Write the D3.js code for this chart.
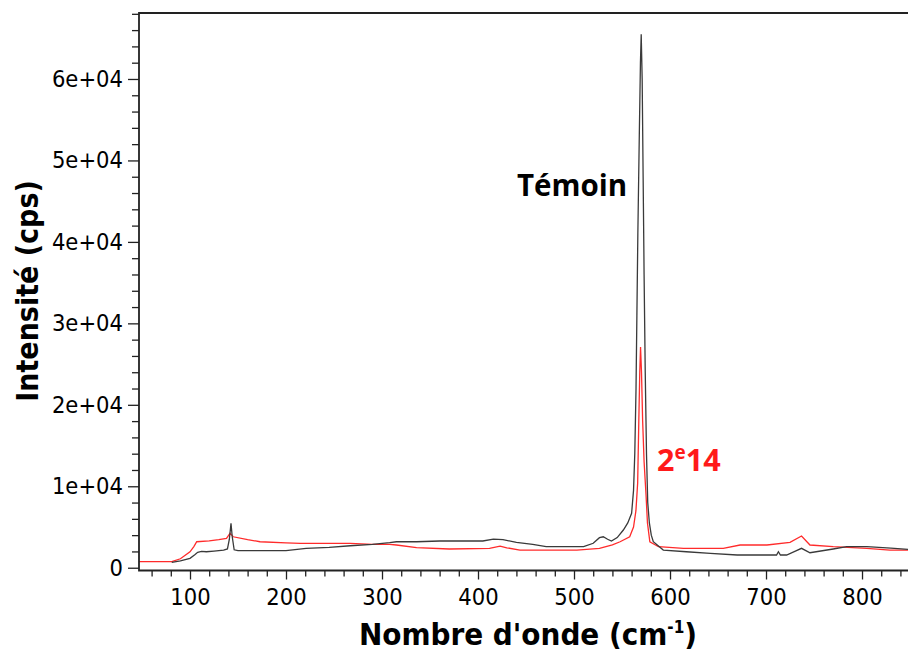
<!DOCTYPE html>
<html><head><meta charset="utf-8">
<script src="https://cdn.jsdelivr.net/npm/d3@7"></script>
<style>body{margin:0;background:#fff} svg{display:block;background:#fff}</style>
</head><body><svg id="chart" width="908" height="653"></svg>
<script>
// Témoin spectrum (black)
const waveTemoin = [81,90,100,105,108,112,117,125,135,139,141,142.7,144,146,150,200,221,245,267,290,308,315,336,360,405,416,426,440,457,471,510,520,526.5,530.5,535,539,545,551.4,556,560,562,563.3,564.6,565.5,566.5,568,569.2,570,571,572,573,574.2,575.5,576.8,578.5,580.5,582.6,593,617,642,670,711,712.9,715,721.5,730,737,745.8,770,784,805,830,848];
const intTemoin = [660,850,1150,1600,1900,2000,1960,2050,2170,2300,3500,5450,3800,2200,2090,2090,2380,2500,2700,2870,3070,3190,3190,3280,3280,3520,3440,3120,2870,2580,2580,3000,3690,3800,3500,3280,3700,4630,5500,6680,9500,14000,22000,31000,41000,53000,62000,65500,60000,48000,36000,24000,14000,8000,5500,4000,3190,2170,1960,1770,1560,1560,1960,1560,1560,2000,2380,1840,2300,2580,2580,2400,2250];
// 2e14 spectrum (red)
const wave2e14 = [47,81,90,100,104,107,120,130,138,141.7,145,160,173,200,215,267,290,308,315,336,370,412,423,430,443.7,503,526.5,540,548,558,562,564.5,566.3,567.5,568.5,569.3,570.3,571.5,573,575,576.5,579,588,614,655.5,673,701,725,737,745.8,770,805,829,848];
const int2e14 = [740,740,1100,1960,2600,3190,3300,3450,3600,4220,3800,3450,3190,3050,3000,3000,2870,2870,2790,2460,2300,2380,2660,2450,2170,2170,2380,2800,3190,3800,5000,7000,10400,18000,24000,27100,24000,18000,13000,9000,5500,3190,2580,2380,2380,2790,2790,3120,3890,2790,2580,2380,2170,2170];

const xTickValues = [100,200,300,400,500,600,700,800];
const yTickValues = [0,10000,20000,30000,40000,50000,60000];
const yTickLabels = ["0","1e+04","2e+04","3e+04","4e+04","5e+04","6e+04"];

const svg = d3.select("#chart");
const L = 139, R = 908, T = 13, B = 570.5;
const x = d3.scaleLinear().domain([46.875, 847.9]).range([L, R]);
const y = d3.scaleLinear().domain([-340, 68100]).range([B, T]);

svg.append("defs").append("clipPath").attr("id","clip")
  .append("rect").attr("x",L).attr("y",T).attr("width",R-L).attr("height",B-T);

const line = d3.line().x(d => x(d[0])).y(d => y(d[1]));
const redData = wave2e14.map((w,i)=>[w,int2e14[i]]);
const blackData = waveTemoin.map((w,i)=>[w,intTemoin[i]]);
const g = svg.append("g").attr("clip-path","url(#clip)");
g.append("path").datum(redData).attr("d",line).attr("fill","none").attr("stroke","#ff2b2b").attr("stroke-width",1.3);
g.append("path").datum(blackData).attr("d",line).attr("fill","none").attr("stroke","#3a3a3a").attr("stroke-width",1.3);

// axes
const tickFont = "DejaVu Sans";
const xMinor = d3.range(60, 848, 20).filter(v => v % 100 !== 0);
const xAxisMinor = d3.axisBottom(x).tickValues(xMinor).tickSize(6).tickFormat("");
const xAxis = d3.axisBottom(x).tickValues(xTickValues).tickSize(9).tickPadding(9).tickFormat(d3.format("d"));
const yMinor = d3.range(2000, 68100, 2000).filter(v => v % 10000 !== 0);
const yAxisMinor = d3.axisLeft(y).tickValues(yMinor).tickSize(7).tickFormat("");
const yAxis = d3.axisLeft(y).tickValues(yTickValues).tickSize(11).tickPadding(5).tickFormat((d,i)=>yTickLabels[i]);

function styleAxis(sel){
  sel.select(".domain").remove();
  sel.selectAll(".tick line").attr("stroke","#222").attr("stroke-width",1.3);
  sel.selectAll("text").attr("font-family",tickFont).attr("font-stretch","condensed").attr("font-size",23.5).attr("fill","#000");
}
svg.append("g").attr("transform",`translate(0,${B})`).call(xAxisMinor).call(styleAxis);
svg.append("g").attr("transform",`translate(0,${B})`).call(xAxis).call(styleAxis);
svg.append("g").attr("transform",`translate(${L},0)`).call(yAxisMinor).call(styleAxis);
svg.append("g").attr("transform",`translate(${L},0)`).call(yAxis).call(styleAxis);

// frame lines
svg.append("path").attr("d",`M${R},${T}H${L}V${B}H${R}`).attr("fill","none").attr("stroke","#222").attr("stroke-width",1.8);

// axis titles
svg.append("text").attr("transform","translate(38,291) rotate(-90)").attr("text-anchor","middle")
  .attr("font-family","DejaVu Sans").attr("font-stretch","condensed").attr("font-weight","bold").attr("font-size",30).attr("fill","#000")
  .text("Intensité (cps)");
const xt = svg.append("text").attr("x",528).attr("y",645).attr("text-anchor","middle")
  .attr("font-family","DejaVu Sans").attr("font-stretch","condensed").attr("font-weight","bold").attr("font-size",31).attr("fill","#000");
xt.append("tspan").text("Nombre d'onde (cm");
xt.append("tspan").attr("font-size",17).attr("dy",-12).text("-1");
xt.append("tspan").attr("dy",12).text(")");

// series labels
svg.append("text").attr("x",572).attr("y",196).attr("text-anchor","middle")
  .attr("font-family","Open Sans").attr("font-weight","bold").attr("font-size",29.5).attr("fill","#000").text("Témoin");
const rl = svg.append("text").attr("x",657).attr("y",471)
  .attr("font-family","Open Sans").attr("font-weight","bold").attr("font-size",30.5).attr("fill","#ff1a1a");
rl.append("tspan").text("2");
rl.append("tspan").attr("font-size",19).attr("dy",-12).text("e");
rl.append("tspan").attr("dy",12).text("14");
</script>
</body></html>
